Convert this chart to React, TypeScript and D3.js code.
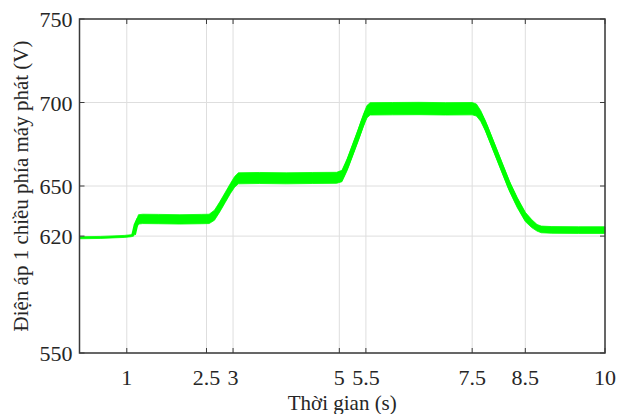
import * as d3 from "d3";

// Thời gian (s) và điện áp DC phía máy phát (V)
const times = [
  0.11, 0.5, 0.95, 1.08, 1.13, 1.17, 1.22, 1.3, 1.6, 2.0, 2.4, 2.55, 2.65, 2.75, 2.85, 2.95, 3.03, 3.1,
  3.5, 4.0, 4.5, 4.95, 5.05, 5.15, 5.25, 5.35, 5.45, 5.52, 5.58, 6.0, 6.5, 7.0, 7.5, 7.58, 7.66, 7.75,
  7.9, 8.05, 8.2, 8.35, 8.5, 8.62, 8.72, 8.8, 9.0, 9.5, 10,
];
const volts = [
  619.0, 619.2, 619.8, 620.2, 621.0, 626.5, 630.0, 630.3, 630.2, 630.0, 630.2, 630.3, 632.5, 637.5, 643,
  648.5, 652.5, 654.6, 654.8, 654.6, 654.8, 654.9, 656, 663, 671.5, 680, 689, 694.5, 696.2, 696.3, 696.4,
  696.2, 696.3, 695.5, 692, 686, 674, 662, 650, 640, 631.5, 627.5, 625, 624, 623.7, 623.6, 623.6,
];
// nửa bề rộng dải dao động (V)
const spread = [
  0.6, 0.6, 0.6, 0.6, 1, 2, 2.8, 2.8, 2.8, 2.8, 2.8, 2.8, 3, 3, 3, 3, 3.2, 3.3,
  3.3, 3.3, 3.3, 3.3, 3.4, 3.5, 3.5, 3.5, 3.6, 3.7, 3.7, 3.7, 3.7, 3.7, 3.7, 3.6, 3.2, 3,
  3, 3, 3, 3, 2.8, 2.4, 2, 2, 2, 2, 2,
];

const xTicks = [1, 2.5, 3, 5, 5.5, 7.5, 8.5, 10];
const yTicks = [550, 620, 650, 700, 750];

export default function App() {
  const width = 631;
  const height = 414;
  const margin = { top: 19, right: 26, bottom: 61, left: 79.5 };
  const x = d3.scaleLinear().domain([0.11, 10]).range([margin.left, width - margin.right]);
  const y = d3.scaleLinear().domain([550, 750]).range([height - margin.bottom, margin.top]);

  const pts = times.map((t, i) => ({ t, v: volts[i], s: spread[i] }));

  const band = d3
    .area<{ t: number; v: number; s: number }>()
    .x((d) => x(d.t))
    .y0((d) => y(d.v - d.s))
    .y1((d) => y(d.v + d.s));

  const line = d3
    .line<{ t: number; v: number; s: number }>()
    .x((d) => x(d.t))
    .y((d) => y(d.v));

  const x0 = margin.left;
  const x1 = width - margin.right;
  const y0 = height - margin.bottom;
  const y1 = margin.top;
  const tick = 5;
  const axisColor = "#3a3a3a";
  const font = "'Liberation Serif', 'Times New Roman', serif";

  return (
    <svg
      width={width}
      height={height}
      style={{ position: "absolute", left: 0, top: 0, background: "#fff" }}
      fontFamily={font}
    >
      {/* lưới */}
      {xTicks.map((t) => (
        <line key={"gx" + t} x1={x(t)} x2={x(t)} y1={y0} y2={y1} stroke="#dedede" strokeWidth={1} />
      ))}
      {yTicks.map((v) => (
        <line key={"gy" + v} x1={x0} x2={x1} y1={y(v)} y2={y(v)} stroke="#dedede" strokeWidth={1} />
      ))}

      {/* tín hiệu */}
      <path d={band(pts) ?? ""} fill="#00ff00" stroke="#00ff00" strokeWidth={0.8} />
      <path
        d={line(pts.filter((d) => d.t >= 1.13)) ?? ""}
        fill="none"
        stroke="#00ff00"
        strokeWidth={4.5}
        strokeLinejoin="round"
      />

      {/* khung và vạch chia */}
      <rect x={x0} y={y1} width={x1 - x0} height={y0 - y1} fill="none" stroke={axisColor} strokeWidth={1.5} />
      {xTicks.map((t) => (
        <g key={"tx" + t}>
          <line x1={x(t)} x2={x(t)} y1={y0} y2={y0 - tick} stroke={axisColor} />
          <line x1={x(t)} x2={x(t)} y1={y1} y2={y1 + tick} stroke={axisColor} />
          <text x={x(t)} y={y0 + 32} textAnchor="middle" fontSize={22} fill="#262626">
            {t}
          </text>
        </g>
      ))}
      {yTicks.map((v) => (
        <g key={"ty" + v}>
          <line x1={x0} x2={x0 + tick} y1={y(v)} y2={y(v)} stroke={axisColor} />
          <line x1={x1} x2={x1 - tick} y1={y(v)} y2={y(v)} stroke={axisColor} />
          <text x={x0 - 7} y={y(v) + 8} textAnchor="end" fontSize={22} fill="#262626">
            {v}
          </text>
        </g>
      ))}

      <text x={(x0 + x1) / 2} y={height - 4} textAnchor="middle" fontSize={21} fill="#262626">
        Thời gian (s)
      </text>
      <text
        transform={`translate(28, ${(y0 + y1) / 2}) rotate(-90)`}
        textAnchor="middle"
        fontSize={21}
        fill="#262626"
      >
        Điện áp 1 chiều phía máy phát (V)
      </text>
    </svg>
  );
}
